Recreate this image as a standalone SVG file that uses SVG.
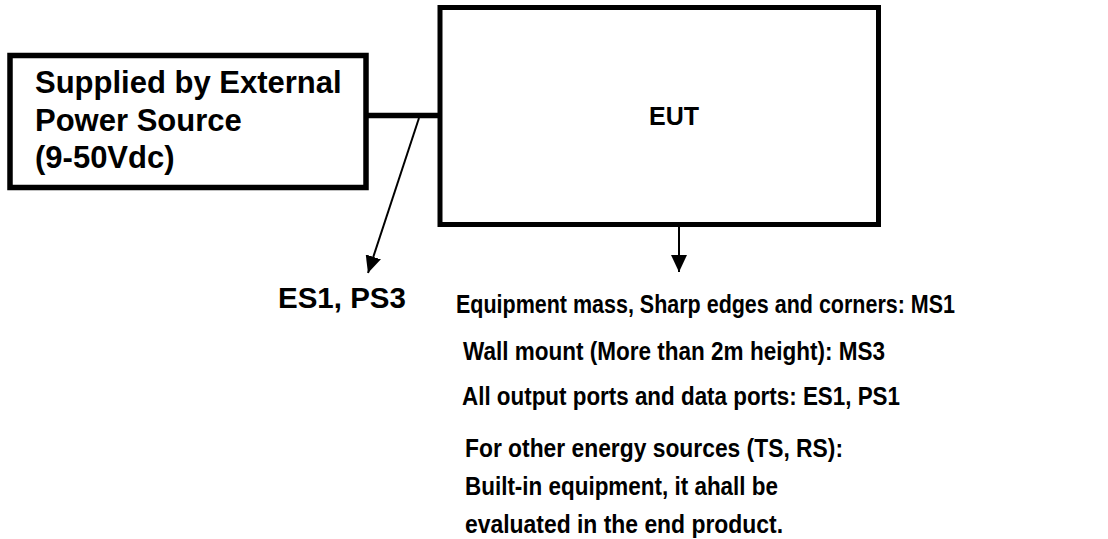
<svg xmlns="http://www.w3.org/2000/svg" width="1108" height="539" viewBox="0 0 1108 539">
  <style>
    .box { fill: #ffffff; stroke: #000000; }
    .t { font-family: "Liberation Sans", Arial, sans-serif; font-weight: bold; fill: #000000; }
    .conn { stroke: #000000; fill: none; }
  </style>
  <defs>
    <marker id="ah" markerUnits="userSpaceOnUse" markerWidth="18" markerHeight="16" refX="17" refY="8" orient="auto">
      <path d="M0,0 L17,8 L0,16 Z" fill="#000000"/>
    </marker>
  </defs>
  <rect x="0" y="0" width="1108" height="539" fill="#ffffff"/>

  <g id="power-source">
    <rect class="box" x="10" y="55.5" width="356" height="132" stroke-width="5.5"/>
    <text class="t" font-size="31" x="35" y="93">Supplied by External</text>
    <text class="t" font-size="31" x="35" y="131">Power Source</text>
    <text class="t" font-size="31" x="35" y="168">(9-50Vdc)</text>
  </g>

  <g id="eut">
    <rect class="box" x="440" y="7.5" width="438.5" height="217" stroke-width="5"/>
    <text class="t" font-size="25" x="674" y="125" text-anchor="middle">EUT</text>
  </g>

  <g id="connectors">
    <line class="conn" x1="366" y1="115.5" x2="441" y2="115.5" stroke-width="5.5"/>
    <line class="conn" x1="419" y1="118" x2="368" y2="273" stroke-width="2" marker-end="url(#ah)"/>
    <line class="conn" x1="679" y1="227" x2="679" y2="272" stroke-width="2" marker-end="url(#ah)"/>
  </g>

  <g id="label-power">
    <text class="t" font-size="29.5" x="278" y="308">ES1, PS3</text>
  </g>

  <g id="label-eut">
    <text class="t" font-size="25" x="456" y="313" textLength="499" lengthAdjust="spacingAndGlyphs">Equipment mass, Sharp edges and corners: MS1</text>
    <text class="t" font-size="25" x="463" y="360" textLength="422" lengthAdjust="spacingAndGlyphs">Wall mount (More than 2m height): MS3</text>
    <text class="t" font-size="25" x="462" y="405" textLength="438" lengthAdjust="spacingAndGlyphs">All output ports and data ports: ES1, PS1</text>
    <text class="t" font-size="25" x="465" y="457" textLength="378" lengthAdjust="spacingAndGlyphs">For other energy sources (TS, RS):</text>
    <text class="t" font-size="25" x="465" y="495" textLength="313" lengthAdjust="spacingAndGlyphs">Built-in equipment, it ahall be</text>
    <text class="t" font-size="25" x="465" y="533" textLength="318" lengthAdjust="spacingAndGlyphs">evaluated in the end product.</text>
  </g>
</svg>
